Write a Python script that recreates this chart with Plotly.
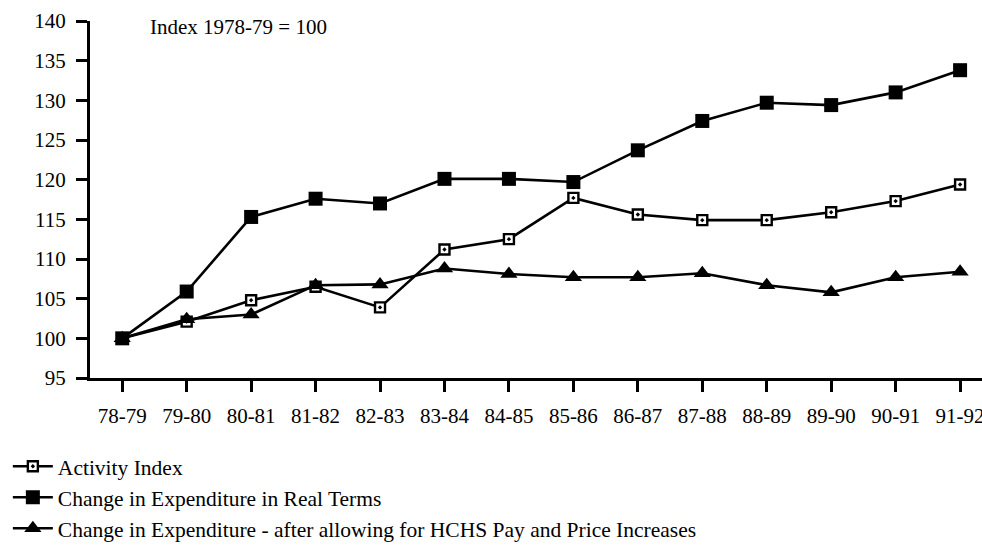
import plotly.graph_objects as go

# Financial years on the horizontal axis
years = ["78-79", "79-80", "80-81", "81-82", "82-83", "83-84", "84-85",
         "85-86", "86-87", "87-88", "88-89", "89-90", "90-91", "91-92"]

# Index values (1978-79 = 100)
activity_index = [100, 102.1, 104.8, 106.5, 103.9, 111.2, 112.5,
                  117.7, 115.6, 114.9, 114.9, 115.9, 117.3, 119.4]
real_terms = [100, 105.9, 115.3, 117.6, 117.0, 120.1, 120.1,
              119.7, 123.7, 127.4, 129.7, 129.4, 131.0, 133.8]
after_pay_price = [100, 102.4, 103.0, 106.7, 106.8, 108.8, 108.1,
                   107.7, 107.7, 108.2, 106.7, 105.8, 107.7, 108.4]

y_ticks = [95, 100, 105, 110, 115, 120, 125, 130, 135, 140]

FONT = "Liberation Serif, Times New Roman, serif"
LINE_W = 2.6

fig = go.Figure()

fig.add_trace(go.Scatter(
    x=years, y=activity_index, mode="lines+markers",
    name="Activity Index", legendrank=1, legendgroup="a",
    line=dict(color="black", width=LINE_W),
    marker=dict(symbol="square-dot", size=10, color="white",
                line=dict(color="black", width=2.4)),
))
fig.add_trace(go.Scatter(
    x=years, y=after_pay_price, mode="lines+markers",
    name="Change in Expenditure - after allowing for HCHS Pay and Price Increases",
    legendrank=3, legendgroup="c",
    line=dict(color="black", width=LINE_W),
    marker=dict(symbol="triangle-up", size=15, color="black"),
))
fig.add_trace(go.Scatter(
    x=years, y=real_terms, mode="lines+markers",
    name="Change in Expenditure in Real Terms", legendrank=2, legendgroup="b",
    line=dict(color="black", width=LINE_W),
    marker=dict(symbol="square", size=14, color="black"),
))

fig.add_annotation(
    text="Index 1978-79 = 100", xref="paper", yref="paper",
    x=(148 - 90) / 892, y=1.0 - 6 / 357, xanchor="left", yanchor="middle",
    showarrow=False, font=dict(family=FONT, size=21, color="black"),
)

fig.update_layout(
    width=982, height=545,
    margin=dict(l=90, r=0, t=21, b=167, autoexpand=False),
    paper_bgcolor="white", plot_bgcolor="white",
    font=dict(family=FONT, size=21, color="black"),
    showlegend=True,
    legend=dict(
        xref="container", yref="container", x=0.008, y=0.182,
        xanchor="left", yanchor="top",
        font=dict(family=FONT, size=21.5, color="black"),
        bgcolor="rgba(0,0,0,0)", tracegroupgap=0,
        itemwidth=40,
    ),
    xaxis=dict(
        type="category", range=[-0.5, 13.34],
        showline=True, linecolor="black", linewidth=3,
        ticks="outside", ticklen=11, tickwidth=2.5, tickcolor="black",
        showgrid=False, zeroline=False, tickangle=0,
        tickfont=dict(family=FONT, size=21, color="black"),
        ticklabelstandoff=6,
    ),
    yaxis=dict(
        range=[95, 140], tickvals=y_ticks,
        showline=True, linecolor="black", linewidth=3,
        ticks="outside", ticklen=11, tickwidth=2.5, tickcolor="black",
        showgrid=False, zeroline=False,
        tickfont=dict(family=FONT, size=21, color="black"),
        ticklabelstandoff=6,
    ),
)

fig.write_html("out.html")
